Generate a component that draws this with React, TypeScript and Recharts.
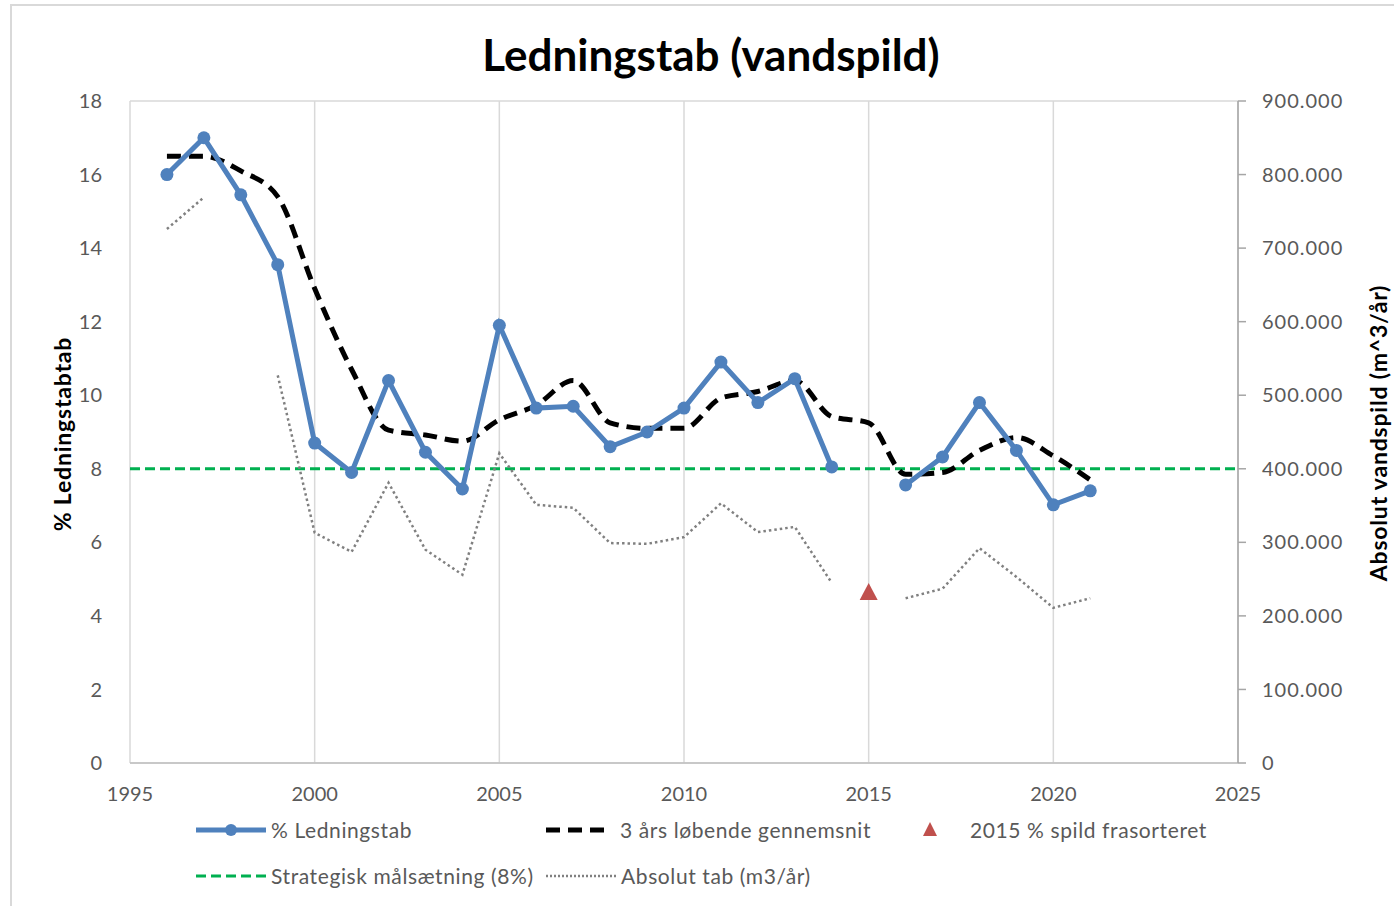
import React from 'react';
import { ComposedChart, Line, XAxis, YAxis, CartesianGrid, ReferenceLine } from 'recharts';

const years = [1996, 1997, 1998, 1999, 2000, 2001, 2002, 2003, 2004, 2005, 2006, 2007, 2008,
  2009, 2010, 2011, 2012, 2013, 2014, 2015, 2016, 2017, 2018, 2019, 2020, 2021];

// % Ledningstab (left axis)
const pctLoss = [16.0, 17.0, 15.45, 13.55, 8.7, 7.9, 10.4, 8.45, 7.45, 11.9, 9.65, 9.7, 8.6,
  9.0, 9.65, 10.9, 9.8, 10.45, 8.05, null, 7.56, 8.32, 9.8, 8.5, 7.02, 7.4];

// 3 års løbende gennemsnit (left axis)
const avg3 = [16.5, 16.5, 16.1, 15.4, 12.9, 10.7, 9.05, 8.92, 8.75, 9.33, 9.73, 10.4, 9.25,
  9.1, 9.1, 9.92, 10.1, 10.4, 9.42, 9.25, 7.85, 7.9, 8.5, 8.85, 8.35, 7.7];

// Absolut tab m3/år (right axis)
const absLoss = [726000, 769000, null, 527000, 313000, 287000, 381000, 290000, 256000, 421000,
  351000, 347000, 299000, 298000, 307000, 353000, 314000, 321000, 245000, null, 224000, 237000,
  292000, 253000, 211000, 224000];

// 2015 % spild frasorteret
const spildYear = 2015;
const spildValue = 4.65;

const target = 8;

const xTicks = [1995, 2000, 2005, 2010, 2015, 2020, 2025];
const leftTicks = [0, 2, 4, 6, 8, 10, 12, 14, 16, 18];
const rightTicks = [0, 100000, 200000, 300000, 400000, 500000, 600000, 700000, 800000, 900000];

const rows = years.map((year, i) => ({
  year,
  pct: pctLoss[i],
  avg: avg3[i],
  abs: absLoss[i],
  spild: year === spildYear ? spildValue : null,
}));

const FONT = 'Lato, "Open Sans", sans-serif';
const TEXT = '#595959';

const fmtThousands = (v: number) => String(v).replace(/\B(?=(\d{3})+(?!\d))/g, '.');

const Triangle = (props: any) => {
  const { cx, cy, value } = props;
  if (value == null || cx == null || cy == null) return <g key={props.key} />;
  return (
    <path key={props.key} d={`M${cx},${cy - 9} L${cx + 9},${cy + 8} L${cx - 9},${cy + 8} Z`} fill="#c0504d" />
  );
};

const legendText: React.CSSProperties = {
  position: 'absolute',
  fontFamily: FONT,
  fontSize: 21,
  letterSpacing: 0.6,
  color: TEXT,
  lineHeight: '24px',
  whiteSpace: 'nowrap',
};

const axisTitle: React.CSSProperties = {
  position: 'absolute',
  left: 0,
  top: 0,
  transform: 'translate(-50%, -50%) rotate(-90deg)',
  fontFamily: FONT,
  fontWeight: 700,
  fontSize: 23,
  letterSpacing: 0.8,
  color: '#000',
  whiteSpace: 'nowrap',
};

const App = () => {
  return (
    <div style={{ position: 'absolute', left: 0, top: 0, width: 1394, height: 906, overflow: 'hidden', background: '#fff' }}>
      <div style={{ position: 'absolute', left: 10, top: 4, width: 1420, height: 940, border: '2px solid #d9d9d9' }} />
      <div style={{ position: 'absolute', left: 0, top: 0 }}>
        <ComposedChart width={1394} height={820} data={rows} margin={{ top: 101, right: 90, bottom: 0, left: 40 }}>
          <CartesianGrid stroke="#d9d9d9" strokeWidth={1.5} />
          <XAxis
            dataKey="year"
            type="number"
            domain={[1995, 2025]}
            ticks={xTicks}
            axisLine={{ stroke: '#bfbfbf', strokeWidth: 1.5 }}
            tickLine={false}
            tickMargin={18}
            height={57}
            tick={{ fontSize: 20, fill: TEXT, fontFamily: FONT }}
          />
          <YAxis
            yAxisId="left"
            domain={[0, 18]}
            ticks={leftTicks}
            axisLine={false}
            tickLine={false}
            tickMargin={22}
            width={90}
            tick={{ fontSize: 20, fill: TEXT, fontFamily: FONT }}
          />
          <YAxis
            yAxisId="right"
            orientation="right"
            domain={[0, 900000]}
            ticks={rightTicks}
            tickFormatter={fmtThousands}
            axisLine={{ stroke: '#a6a6a6', strokeWidth: 1.5 }}
            tickLine={{ stroke: '#a6a6a6', strokeWidth: 1.5 }}
            tickSize={8}
            tickMargin={16}
            width={66}
            tick={{ fontSize: 20, fill: TEXT, fontFamily: FONT, textAnchor: 'start', letterSpacing: 1 }}
          />
          <ReferenceLine yAxisId="left" y={target} stroke="#00b050" strokeWidth={3} strokeDasharray="10 5" />
          <Line
            yAxisId="right"
            dataKey="abs"
            type="linear"
            stroke="#808080"
            strokeWidth={2.5}
            strokeDasharray="2.5 3"
            dot={false}
            connectNulls={false}
            isAnimationActive={false}
          />
          <Line
            yAxisId="left"
            dataKey="avg"
            type="monotone"
            stroke="#000000"
            strokeWidth={5}
            strokeDasharray="14 8"
            dot={false}
            isAnimationActive={false}
          />
          <Line
            yAxisId="left"
            dataKey="pct"
            type="linear"
            stroke="#4f81bd"
            strokeWidth={5}
            dot={{ r: 6.5, fill: '#4f81bd', stroke: '#4f81bd', strokeWidth: 0 }}
            connectNulls={false}
            isAnimationActive={false}
          />
          <Line
            yAxisId="left"
            dataKey="spild"
            stroke="none"
            dot={Triangle}
            isAnimationActive={false}
          />
        </ComposedChart>
      </div>

      {/* title */}
      <div style={{ position: 'absolute', left: 0, width: 1422, top: 28, textAlign: 'center', fontFamily: FONT, fontWeight: 700, fontSize: 44, color: '#000', lineHeight: '52px' }}>
        Ledningstab (vandspild)
      </div>

      {/* axis titles */}
      <div style={{ position: 'absolute', left: 62, top: 434, width: 0, height: 0 }}>
        <div style={axisTitle}>% Ledningstabtab</div>
      </div>
      <div style={{ position: 'absolute', left: 1378, top: 433, width: 0, height: 0 }}>
        <div style={axisTitle}>Absolut vandspild (m^3/år)</div>
      </div>

      {/* legend */}
      <svg style={{ position: 'absolute', left: 0, top: 0 }} width={1394} height={906}>
        <line x1={196} y1={830} x2={266} y2={830} stroke="#4f81bd" strokeWidth={5} />
        <circle cx={231} cy={830} r={6} fill="#4f81bd" />
        <line x1={546} y1={830} x2={610} y2={830} stroke="#000" strokeWidth={5} strokeDasharray="14 8" />
        <path d="M930,822 L937,836 L923,836 Z" fill="#c0504d" />
        <line x1={196} y1={876} x2={266} y2={876} stroke="#00b050" strokeWidth={3} strokeDasharray="10 5" />
        <line x1={546} y1={876} x2={616} y2={876} stroke="#808080" strokeWidth={2.5} strokeDasharray="2 2" />
      </svg>
      <div style={{ ...legendText, left: 271, top: 818 }}>% Ledningstab</div>
      <div style={{ ...legendText, left: 620, top: 818 }}>3 års løbende gennemsnit</div>
      <div style={{ ...legendText, left: 970, top: 818 }}>2015 % spild frasorteret</div>
      <div style={{ ...legendText, left: 271, top: 864 }}>Strategisk målsætning (8%)</div>
      <div style={{ ...legendText, left: 621, top: 864 }}>Absolut tab (m3/år)</div>
    </div>
  );
};

export default App;
